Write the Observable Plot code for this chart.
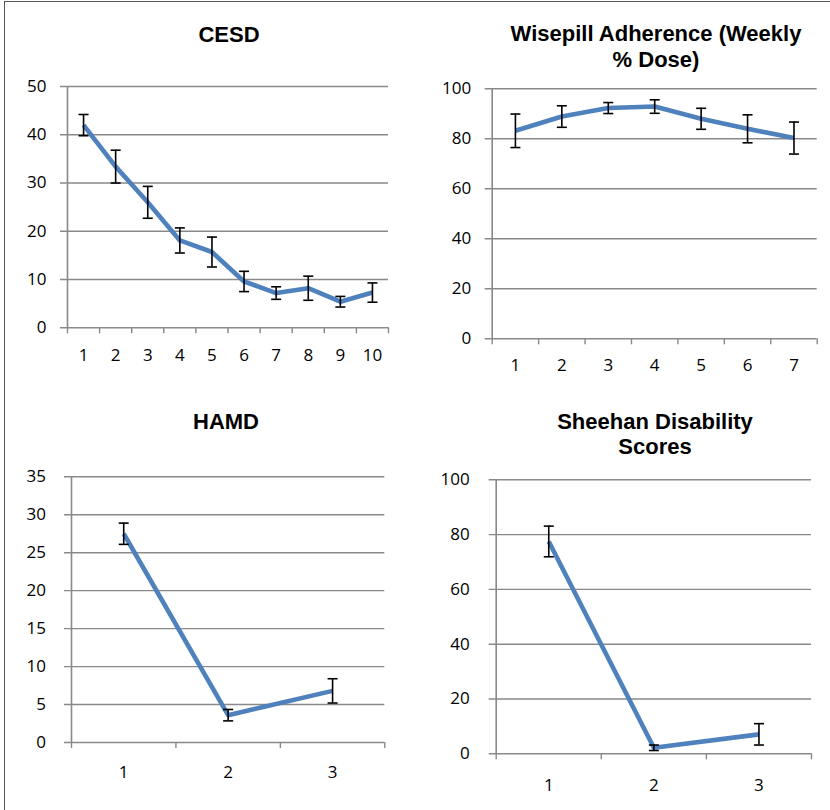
<!DOCTYPE html>
<html><head><meta charset="utf-8">
<script src="https://cdn.jsdelivr.net/npm/d3@7"></script>
<script src="https://cdn.jsdelivr.net/npm/@observablehq/plot@0.6"></script>
<style>
body{margin:0;background:#fff;}
#root{position:relative;width:830px;height:810px;overflow:hidden;background:#fff;}
.frame{position:absolute;left:4px;top:1px;width:900px;height:900px;border-top:1.5px solid #555;border-left:1.5px solid #555;}
.title{position:absolute;font-family:"Liberation Sans",Arial,sans-serif;font-weight:bold;font-size:22px;text-align:center;line-height:25.6px;width:400px;color:#000;}
.panel{position:absolute;}
</style></head>
<body><div id="root"><div class="frame"></div></div>
<script>
// ---- data ----
const cesdTitle = "CESD";
const cesdCats = [1, 2, 3, 4, 5, 6, 7, 8, 9, 10];
const cesdMean = [42.0, 33.4, 26.0, 18.1, 15.7, 9.6, 7.2, 8.2, 5.4, 7.3];
const cesdErr  = [2.2, 3.4, 3.3, 2.6, 3.1, 2.1, 1.3, 2.5, 1.1, 2.0];
const cesdTicks = [0, 10, 20, 30, 40, 50];

const wiseTitle = ["Wisepill Adherence (Weekly", "% Dose)"];
const wiseCats = [1, 2, 3, 4, 5, 6, 7];
const wiseMean = [83.2, 88.9, 92.3, 92.9, 88.0, 84.0, 80.3];
const wiseErr  = [6.7, 4.3, 2.2, 2.7, 4.2, 5.6, 6.4];
const wiseTicks = [0, 20, 40, 60, 80, 100];

const hamdTitle = "HAMD";
const hamdCats = [1, 2, 3];
const hamdMean = [27.5, 3.6, 6.8];
const hamdErr  = [1.4, 0.75, 1.6];
const hamdTicks = [0, 5, 10, 15, 20, 25, 30, 35];

const sheeTitle = ["Sheehan Disability", "Scores"];
const sheeCats = [1, 2, 3];
const sheeMean = [77.5, 2.2, 7.1];
const sheeErr  = [5.6, 1.0, 3.9];
const sheeTicks = [0, 20, 40, 60, 80, 100];

// ---- drawing ----
const root = document.getElementById("root");
const GRAY = "#898989";
const BLUE = "#4F81BD";
const FS = 17;
const capSymbol = {
  draw(ctx, size) {
    const r = Math.sqrt(size / Math.PI);
    ctx.moveTo(-r, 0);
    ctx.lineTo(r, 0);
  }
};

function addTitle(lines, cx, top) {
  const d = document.createElement("div");
  d.className = "title";
  d.style.left = (cx - 200) + "px";
  d.style.top = top + "px";
  d.innerHTML = [].concat(lines).join("<br>");
  root.appendChild(d);
}

function panel(o) {
  const n = o.cats.length;
  const data = o.cats.map((c, i) => ({x: c, y: o.mean[i], lo: o.mean[i] - o.err[i], hi: o.mean[i] + o.err[i]}));
  const x0 = o.cats[0] - 0.5;
  const bounds = o.cats.map(c => c - 0.5).concat([o.cats[n - 1] + 0.5]);
  const yMax = o.ticks[o.ticks.length - 1];
  const svg = Plot.plot({
    width: o.width, height: o.height,
    marginLeft: o.ml, marginRight: o.mr, marginTop: o.mt, marginBottom: o.mb,
    x: {domain: [x0, o.cats[n - 1] + 0.5]},
    y: {domain: [0, yMax]},
    style: `font-family:'Open Sans',sans-serif;font-size:${FS}px;overflow:visible;background:transparent;color:#000;`,
    marks: [
      Plot.gridY(o.ticks, {stroke: GRAY, strokeOpacity: 1, strokeWidth: 1.4, insetLeft: -7}),
      Plot.ruleX([x0], {stroke: GRAY, strokeWidth: 1.6}),
      Plot.axisX(bounds, {tickSize: 6, tickFormat: () => "", stroke: GRAY, strokeWidth: 1.4, label: null}),
      Plot.axisX(o.cats, {tickSize: 0, tickPadding: o.xPad, label: null, fontSize: FS, fill: "#000"}),
      Plot.axisY(o.ticks, {tickSize: 0, tickPadding: o.yPad, label: null, fontSize: FS, fill: "#000"}),
      Plot.line(data, {x: "x", y: "y", stroke: BLUE, strokeWidth: 4.6, strokeLinejoin: "round", strokeLinecap: "butt"}),
      Plot.ruleX(data, {x: "x", y1: "lo", y2: "hi", stroke: "#000", strokeWidth: 1.6}),
      Plot.dot(data, {x: "x", y: "lo", symbol: capSymbol, r: 5, stroke: "#000", strokeWidth: 1.6}),
      Plot.dot(data, {x: "x", y: "hi", symbol: capSymbol, r: 5, stroke: "#000", strokeWidth: 1.6})
    ]
  });
  svg.classList.add("panel");
  svg.style.position = "absolute";
  svg.style.left = o.left + "px";
  svg.style.top = o.top + "px";
  root.appendChild(svg);
}

addTitle(cesdTitle, 229, 21.9);
addTitle(wiseTitle, 656, 21.3);
addTitle(hamdTitle, 226, 408.9);
addTitle(sheeTitle, 655, 408.9);

panel({cats: cesdCats, mean: cesdMean, err: cesdErr, ticks: cesdTicks,
  left: 0, top: 70, width: 415, height: 300, ml: 67, mr: 27, mt: 16, mb: 42.7, xPad: 21.5, yPad: 21});
panel({cats: wiseCats, mean: wiseMean, err: wiseErr, ticks: wiseTicks,
  left: 415, top: 70, width: 415, height: 310, ml: 76.7, mr: 13.3, mt: 18.3, mb: 41.7, xPad: 20.5, yPad: 21});
panel({cats: hamdCats, mean: hamdMean, err: hamdErr, ticks: hamdTicks,
  left: 0, top: 460, width: 415, height: 320, ml: 71, mr: 30.7, mt: 16.3, mb: 38, xPad: 23.5, yPad: 25.5});
panel({cats: sheeCats, mean: sheeMean, err: sheeErr, ticks: sheeTicks,
  left: 415, top: 460, width: 415, height: 340, ml: 80.7, mr: 19, mt: 19.3, mb: 46.7, xPad: 25, yPad: 26.5});
</script>
</body></html>
